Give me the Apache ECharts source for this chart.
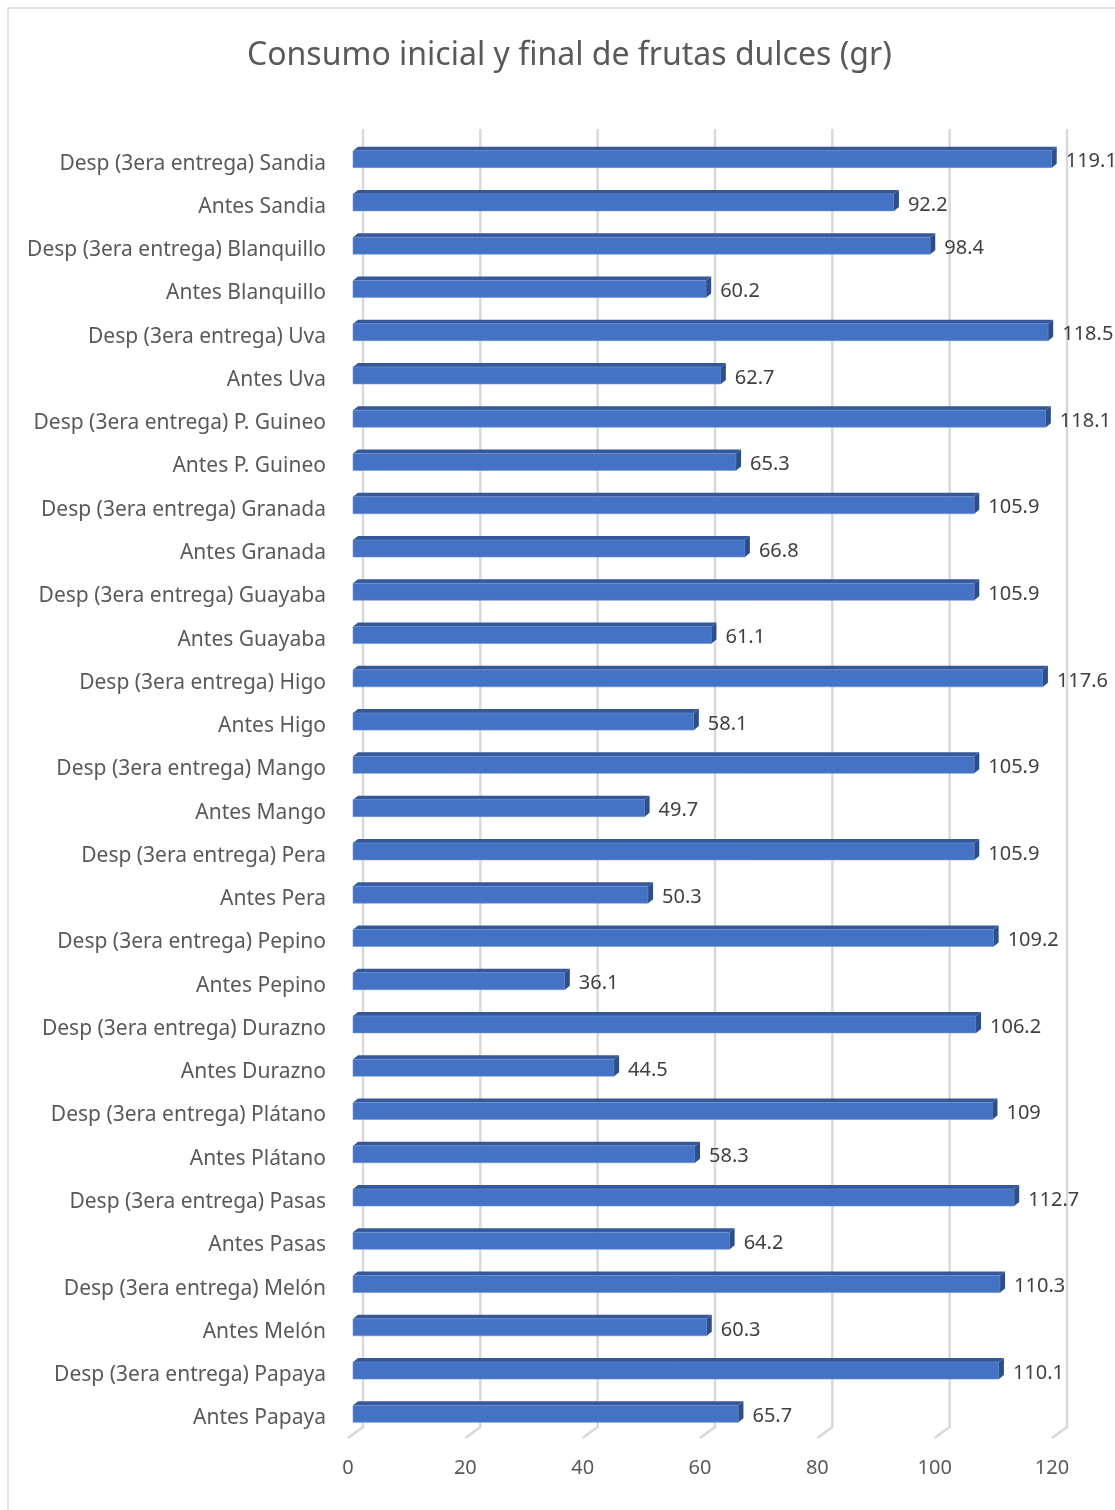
<!DOCTYPE html>
<html><head><meta charset="utf-8">
<script src="https://cdn.jsdelivr.net/npm/echarts@6/dist/echarts.min.js"></script>
<style>html,body{margin:0;padding:0;background:#fff}#c{width:1115px;height:1510px}</style>
</head><body><div id="c"></div>
<script>
const categories = [
  "Desp (3era entrega) Sandia","Antes Sandia",
  "Desp (3era entrega) Blanquillo","Antes Blanquillo",
  "Desp (3era entrega) Uva","Antes Uva",
  "Desp (3era entrega) P. Guineo","Antes P. Guineo",
  "Desp (3era entrega) Granada","Antes Granada",
  "Desp (3era entrega) Guayaba","Antes Guayaba",
  "Desp (3era entrega) Higo","Antes Higo",
  "Desp (3era entrega) Mango","Antes Mango",
  "Desp (3era entrega) Pera","Antes Pera",
  "Desp (3era entrega) Pepino","Antes Pepino",
  "Desp (3era entrega) Durazno","Antes Durazno",
  "Desp (3era entrega) Plátano","Antes Plátano",
  "Desp (3era entrega) Pasas","Antes Pasas",
  "Desp (3era entrega) Melón","Antes Melón",
  "Desp (3era entrega) Papaya","Antes Papaya"
];
const values = [
  119.1, 92.2,
  98.4, 60.2,
  118.5, 62.7,
  118.1, 65.3,
  105.9, 66.8,
  105.9, 61.1,
  117.6, 58.1,
  105.9, 49.7,
  105.9, 50.3,
  109.2, 36.1,
  106.2, 44.5,
  109, 58.3,
  112.7, 64.2,
  110.3, 60.3,
  110.1, 65.7
];
const xTicks = [0, 20, 40, 60, 80, 100, 120];

const FONT = "'Noto Sans', sans-serif";
const chart = echarts.init(document.getElementById('c'), null, {renderer: 'canvas'});

function renderBar(params, api) {
  const v = api.value(0), idx = api.value(1);
  const p0 = api.coord([0, idx]);
  const p1 = api.coord([v, idx]);
  const dx = 5, dy = -4.5, h = 17, sx = 5, sy = 4;
  const x0 = p0[0] + dx, x1 = p1[0] + dx;
  const top = p0[1] + dy - h / 2, bot = top + h;
  return {
    type: 'group',
    children: [
      {type: 'polygon', shape: {points: [[x0, top], [x0 + sx, top - sy], [x1 + sx, top - sy], [x1, top]]},
        style: {fill: '#34589a'}},
      {type: 'rect', shape: {x: x0, y: top, width: x1 - x0, height: h},
        style: {fill: '#4472c4', stroke: '#6f93d3', lineWidth: 0.6}},
      {type: 'polygon', shape: {points: [[x1, top], [x1 + sx, top - sy], [x1 + sx, bot - sy], [x1, bot]]},
        style: {fill: '#2c4f8c'}},
      {type: 'text', style: {text: String(v), x: x1 + sx + 9, y: p0[1] - 2,
        textVerticalAlign: 'middle', verticalAlign: 'middle', align: 'left',
        font: '20px ' + FONT, fill: '#404040'}}
    ]
  };
}

function renderGrid(params, api) {
  const t = api.value(0);
  const cs = params.coordSys;
  const p = api.coord([t, 0]);
  const x = p[0];
  const yTop = cs.y - 13, yBot = cs.y + cs.height - 13, yFoot = cs.y + cs.height - 2;
  return {
    type: 'polyline',
    shape: {points: [[x + 15, yTop], [x + 15, yBot], [x, yFoot]]},
    style: {stroke: '#d9d9d9', lineWidth: 2.5, fill: null}
  };
}

chart.setOption({
  animation: false,
  backgroundColor: '#fff',
  title: {
    text: 'Consumo inicial y final de frutas dulces (gr)',
    left: 242, top: 35,
    textStyle: {fontFamily: FONT, fontSize: 32, fontWeight: 'normal', color: '#595959'}
  },
  graphic: [{
    type: 'rect', shape: {x: 8, y: 8, width: 1120, height: 1520},
    style: {fill: null, stroke: '#d9d9d9', lineWidth: 1.5}, silent: true
  }],
  grid: {left: 348, right: 63, top: 142, bottom: 70, containLabel: false},
  xAxis: {
    type: 'value', min: 0, max: 120, interval: 20,
    axisLine: {show: false}, axisTick: {show: false}, splitLine: {show: false},
    axisLabel: {margin: 18, fontFamily: FONT, fontSize: 20, color: '#595959',
      formatter: function (v) { return xTicks.indexOf(v) >= 0 ? String(v) : ''; }}
  },
  yAxis: {
    type: 'category', data: categories, inverse: true,
    axisLine: {show: false}, axisTick: {show: false},
    axisLabel: {margin: 22, fontFamily: FONT, fontSize: 21, color: '#595959', padding: [10, 0, 0, 0]}
  },
  series: [
    {type: 'custom', name: 'grid', renderItem: renderGrid, z: 1, silent: true,
      data: xTicks.map(t => [t, 0]), encode: {x: 0, y: 1}},
    {type: 'custom', name: 'valores', renderItem: renderBar, z: 2,
      data: values.map((v, i) => [v, i]), encode: {x: 0, y: 1}}
  ]
});
</script></body></html>
